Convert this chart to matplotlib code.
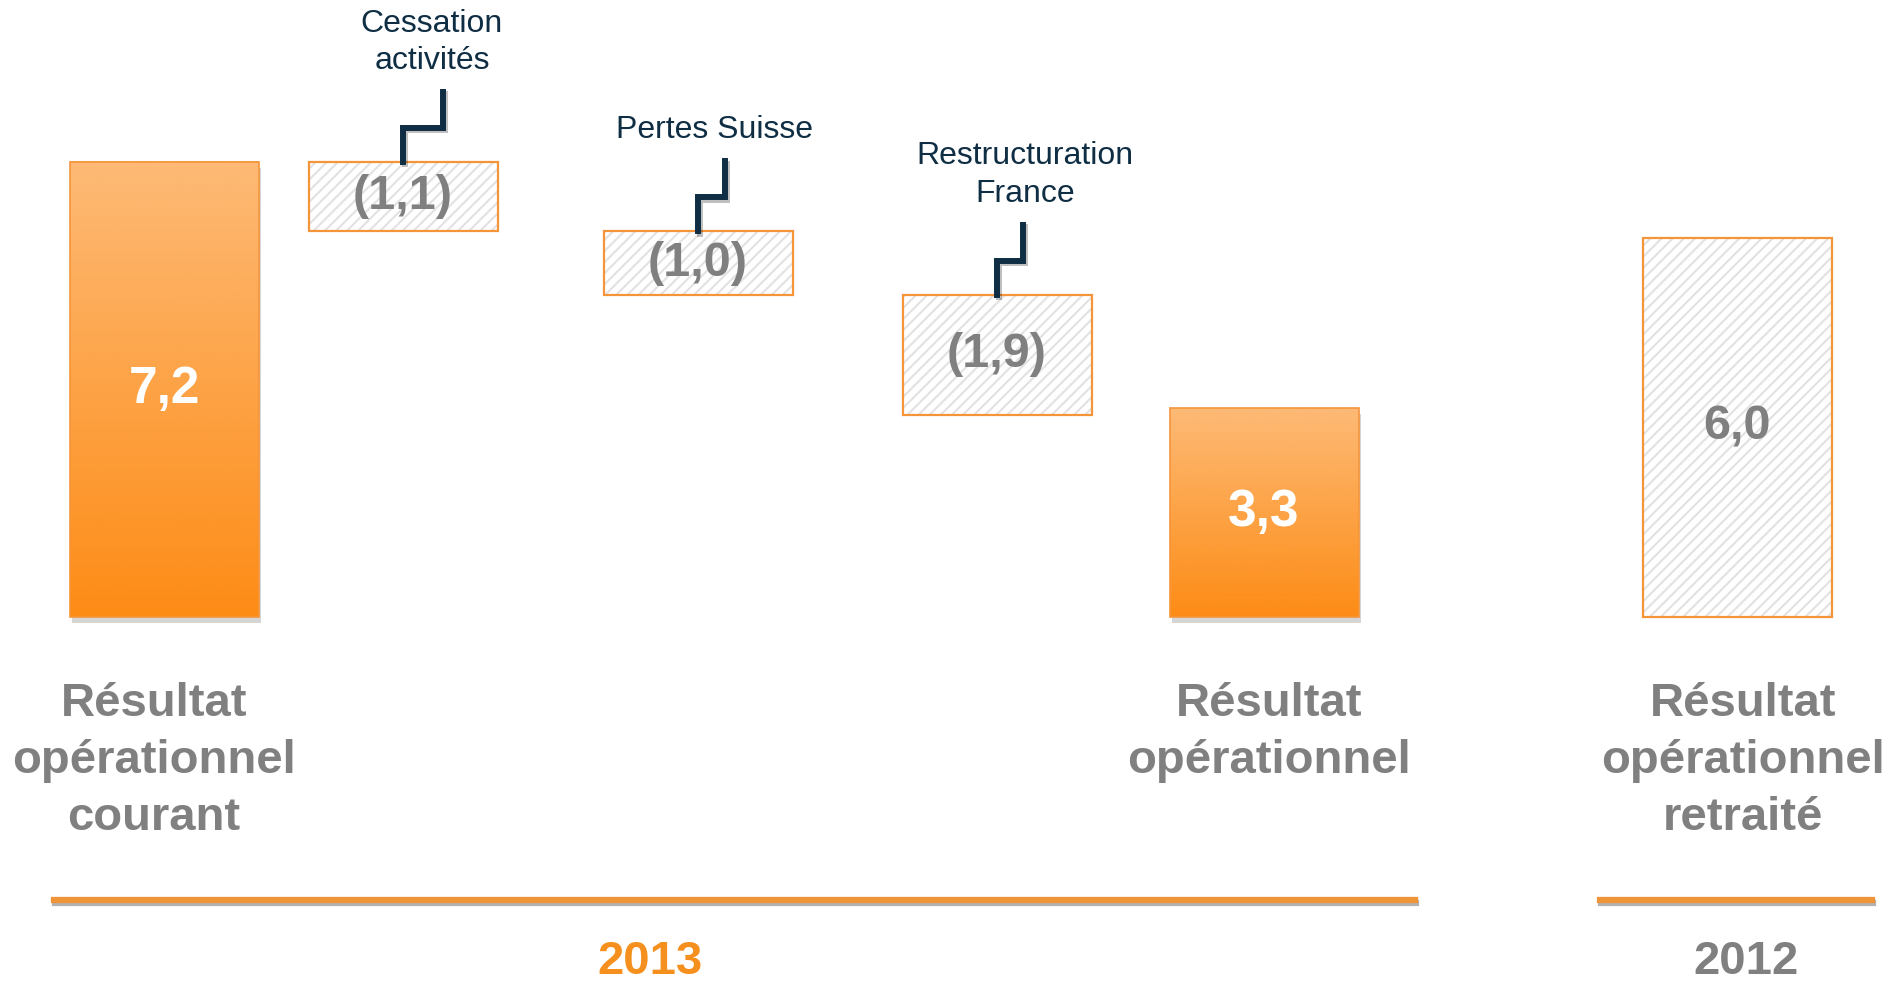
"""Résultat opérationnel 2013 vs 2012 — waterfall slide."""
import numpy as np
import matplotlib.pyplot as plt
import matplotlib.patheffects as pe
from matplotlib.patches import Rectangle

plt.rcParams["font.family"] = ["Liberation Sans", "DejaVu Sans"]
plt.rcParams["hatch.linewidth"] = 1.5

# --- data ---
steps = ["Résultat\nopérationnel\ncourant", "Cessation\nactivités", "Pertes Suisse",
         "Restructuration\nFrance", "Résultat\nopérationnel", "Résultat\nopérationnel\nretraité"]
values = [7.2, -1.1, -1.0, -1.9, 3.3, 6.0]
kinds = ["total", "delta", "delta", "delta", "total", "ref"]
value_labels = ["7,2", "(1,1)", "(1,0)", "(1,9)", "3,3", "6,0"]
years = ["2013", "2012"]

# --- layout (pixels of a 1891x983 canvas) ---
W, H = 1891, 983
x_centers = [164, 403, 698, 997, 1264, 1737]
label_dx = [-10, 0, 0, 0, 5, 6]        # category label shift
step_dx = [0, 40, 27, 26, 0, 0]         # connector horizontal jog
caption_dx = [0, 29, 17, 28, 0, 0]      # caption centre relative to box centre
bar_w = 189
y_zero_px = 617          # pixel row of value 0
px_per_unit = 63.2
year_spans = [(54, 1415), (1600, 1872)]
year_text_x = [650, 1746]

ORANGE_TOP = "#FDBA76"
ORANGE_BOT = "#FD8C16"
EDGE = "#F5953A"
GREY = "#808080"
NAVY = "#0F2E44"
HATCH = "#E2E2E2"

fig = plt.figure(figsize=(W / 100, H / 100), dpi=100)
ax = fig.add_axes([0, 0, 1, 1])
ylo = -(H - y_zero_px) / px_per_unit
yhi = y_zero_px / px_per_unit


def to_fig(x, y):
    return x / W, 1 - y / H


grad = np.linspace(0, 1, 256).reshape(-1, 1)
cmap = plt.matplotlib.colors.LinearSegmentedColormap.from_list("o", [ORANGE_BOT, ORANGE_TOP])

running = 0.0
for i, (name, v, kind, lab) in enumerate(zip(steps, values, kinds, value_labels)):
    cx = x_centers[i]
    x0 = cx - bar_w / 2
    if kind == "delta":
        top, bottom = running, running + v
        running += v
    else:
        top, bottom = v, 0.0
        if kind == "total" and i == 0:
            running = v

    if kind == "total":
        shadow = Rectangle((x0, bottom), bar_w, top - bottom, facecolor="#999999", lw=0,
                           zorder=1)
        shadow.set_path_effects([pe.SimplePatchShadow(offset=(2, -4), alpha=0.3,
                                                      shadow_rgbFace="#777777")])
        ax.add_patch(shadow)
        ax.imshow(grad, extent=(x0, x0 + bar_w, bottom, top), origin="lower", cmap=cmap,
                  aspect="auto", zorder=2)
        ax.add_patch(Rectangle((x0, bottom), bar_w, top - bottom, fill=False,
                               edgecolor=EDGE, lw=1.2, zorder=3))
        ax.text(cx, (top + bottom) / 2, lab, color="white", fontsize=37, fontweight="bold",
                ha="center", va="center", zorder=4)
    else:
        ax.add_patch(Rectangle((x0, bottom), bar_w, top - bottom, facecolor="white",
                               edgecolor=HATCH, hatch="///", lw=0, zorder=2))
        ax.add_patch(Rectangle((x0, bottom), bar_w, top - bottom, fill=False,
                               edgecolor=EDGE, lw=1.6, zorder=3))
        ax.text(cx, (top + bottom) / 2, lab, color=GREY, fontsize=35, fontweight="bold",
                ha="center", va="center", zorder=4)

    if kind == "delta":
        # stepped connector going up from the box to its caption
        u = 1 / px_per_unit
        y1 = top + 34 * u
        y2 = y1 + 36 * u
        xs = [cx, cx, cx + step_dx[i], cx + step_dx[i]]
        ys = [top, y1, y1, y2]
        ax.plot(xs, ys, color=NAVY, lw=4.3, solid_joinstyle="miter", zorder=3,
                path_effects=[pe.SimpleLineShadow(offset=(1.5, -1.5), alpha=0.25),
                              pe.Normal()])
        ax.text(cx + caption_dx[i], y2 + 16 * u, name, color=NAVY, fontsize=23,
                ha="center", va="bottom", linespacing=1.32)
    else:
        fx, fy = to_fig(cx + label_dx[i], 682)
        fig.text(fx, fy, name, color=GREY, fontsize=34, fontweight="bold", ha="center",
                 va="top", linespacing=1.38)

# year separators
for (xa, xb), yx, yr, col in zip(year_spans, year_text_x, years, ["#F5901E", GREY]):
    fa, fy = to_fig(xa, 900)
    fb, _ = to_fig(xb, 900)
    fig.add_artist(plt.Line2D([fa, fb], [fy, fy], color="#F0943A", lw=4.5,
                              path_effects=[pe.SimpleLineShadow(offset=(1, -2), alpha=0.3),
                                            pe.Normal()]))
    tx, ty = to_fig(yx, 962)
    fig.text(tx, ty, yr, color=col, fontsize=34, fontweight="bold", ha="center",
             va="center")

ax.set_xlim(0, W)
ax.set_ylim(ylo, yhi)
ax.axis("off")
fig.savefig("out.png", dpi=100)
